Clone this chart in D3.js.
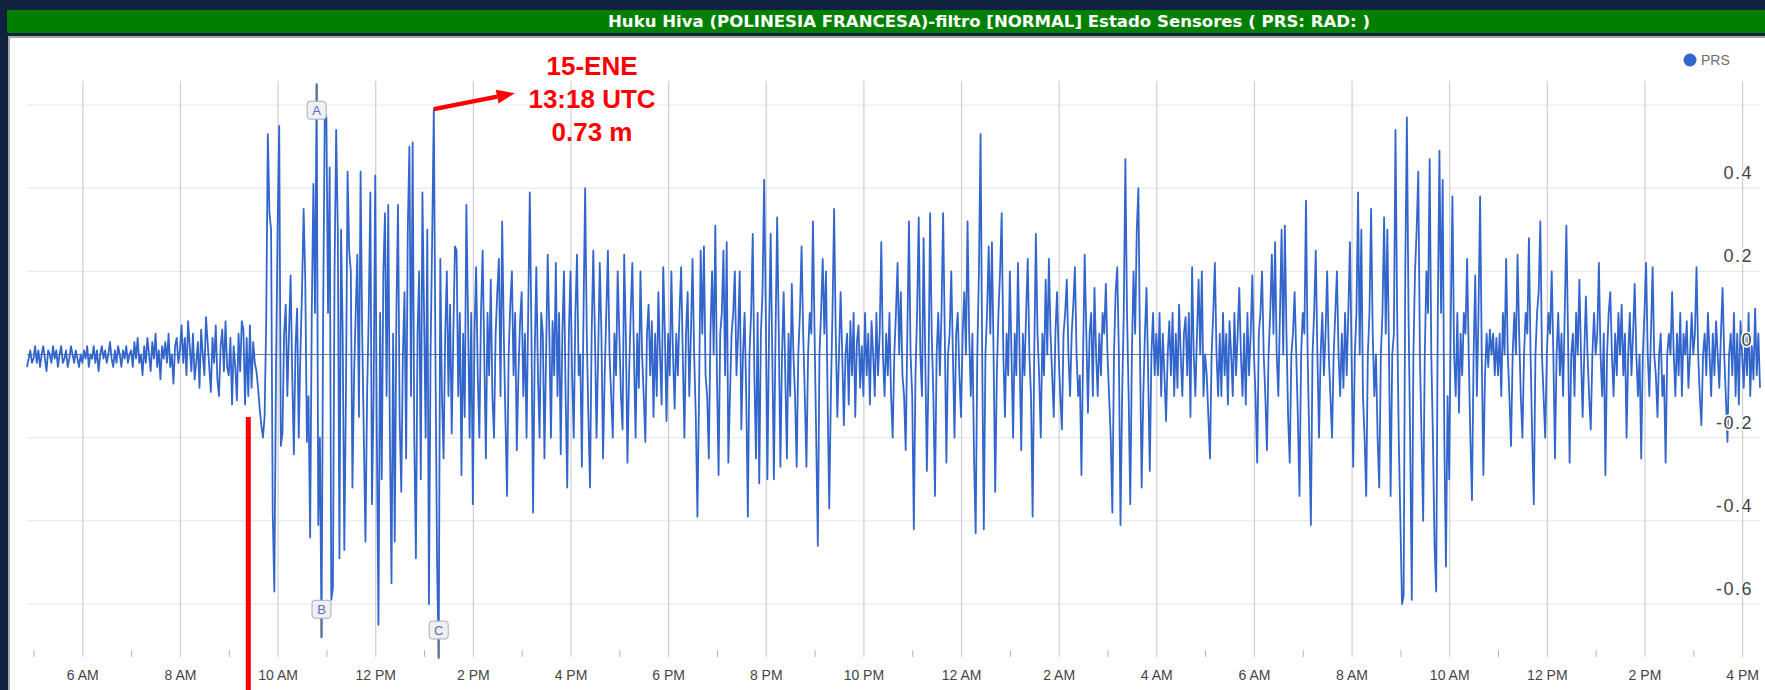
<!DOCTYPE html>
<html>
<head>
<meta charset="utf-8">
<script src="https://d3js.org/d3.v7.min.js"></script>
<style>
  html, body { margin: 0; padding: 0; background: #10223f; overflow: hidden; }
  svg { display: block; }
  .xAxis text { font-family: "Liberation Sans", Arial, sans-serif; font-size: 14px; fill: #444; }
  .xAxis line, .minorTicks line { stroke: #cfcfcf; }
  .minorTicks line { stroke: #b5b5b5; }
  .yGrid line { stroke: #e6e6e6; }
</style>
</head>
<body>
<div id="chart"></div>
<script>
var width = 1765;
var height = 690;

// sea level (PRS, filtered) one value every 2 minutes, from 15-ENE 04:52
var startTime = new Date(2022, 0, 15, 4, 52);
var stepMinutes = 2;

// 04:52 - 08:58
var prsEarly = [
  -0.03, -0.01, 0.01, -0.02,
  -0.01, 0.02, -0.02, 0.01, -0.03, 0.00, 0.02, -0.01, -0.04, 0.01, 0.00, -0.02, 0.02, -0.01, 0.01, -0.03, 0.00, 0.02, -0.02, -0.01, 0.01, -0.03, -0.01, 0.02, 0.00, -0.02, 0.01, -0.01, -0.03, 0.00,
  -0.02, 0.01, -0.01, 0.02, -0.03, 0.00, -0.01, 0.02, -0.02, 0.01, -0.04, 0.00, 0.02, -0.01, 0.01, -0.02, 0.00, 0.03, -0.01, -0.03, 0.01, -0.02, 0.02, 0.00, -0.03, 0.01, -0.01, 0.02, -0.02, 0.00,
  0.01, -0.03, 0.03, -0.01, 0.04, -0.02, 0.00, -0.05, 0.02, -0.02, 0.04, 0.00, -0.04, 0.03, -0.01, 0.05, -0.03, 0.01, -0.06, 0.02, -0.01, 0.03, -0.02, 0.05, -0.03, 0.00, -0.07, 0.02, 0.04, -0.02,
  0.01, 0.07, -0.02, 0.04, -0.05, 0.08, 0.02, -0.04, 0.05, -0.06, -0.02, 0.03, -0.08, 0.06, 0.00, -0.05, 0.09, 0.03, -0.03, -0.09, 0.04, -0.02, 0.07, -0.06, -0.10, 0.02, 0.06, -0.04, 0.08, -0.03
];

// 09:00 - 23:58
var prsDay1 = [
  -0.05, 0.04, -0.12, 0.02, -0.03, -0.11, 0.05, -0.04, 0.08, 0.06, -0.12, 0.04, -0.10, 0.07, -0.08, 0.03, -0.02, -0.04, -0.08, -0.13, -0.17, -0.20, -0.15, 0.08, 0.53, 0.34, 0.30, -0.38, -0.57, -0.05,
  0.30, 0.55, -0.22, -0.19, 0.05, 0.12, -0.10, 0.05, 0.19, -0.05, -0.24, 0.02, 0.11, -0.20, 0.00, 0.15, 0.35, 0.18, -0.21, -0.10, -0.44, 0.10, 0.41, 0.10, 0.65, -0.41, -0.20, -0.68, 0.10, 0.58,
  0.57, 0.10, 0.45, -0.59, -0.56, 0.20, 0.54, 0.30, -0.49, 0.30, 0.05, -0.47, -0.10, 0.44, 0.25, 0.20, -0.32, -0.05, 0.10, 0.24, -0.15, 0.44, 0.05, -0.20, -0.45, -0.10, 0.10, 0.39, -0.36, -0.10,
  0.43, -0.20, -0.65, 0.10, -0.30, 0.20, 0.34, -0.10, 0.36, -0.19, -0.55, 0.05, -0.45, 0.10, 0.36, -0.15, -0.33, 0.00, 0.15, -0.25, 0.30, 0.50, -0.10, 0.51, -0.20, -0.49, 0.05, 0.20, -0.30, 0.39,
  0.10, -0.20, 0.30, -0.60, 0.00, 0.28, 0.59, 0.00, -0.50, -0.73, 0.23, -0.10, -0.25, 0.05, 0.20, -0.10, 0.12, -0.19, 0.05, 0.26, 0.25, -0.10, 0.10, -0.29, 0.05, -0.15, 0.36, 0.10, -0.20, 0.10,
  -0.36, 0.05, 0.21, -0.05, -0.20, 0.10, 0.25, 0.00, -0.25, 0.10, -0.05, 0.18, -0.10, -0.20, 0.05, 0.15, 0.23, -0.10, 0.32, 0.05, -0.15, -0.34, 0.00, 0.12, 0.20, -0.05, 0.10, -0.23, -0.05, 0.08,
  0.15, -0.10, 0.05, -0.20, 0.10, 0.39, 0.05, -0.38, 0.00, 0.21, -0.05, -0.20, 0.10, 0.05, -0.25, 0.00, 0.24, 0.05, -0.20, 0.08, -0.05, 0.22, -0.10, 0.10, -0.24, 0.05, 0.20, -0.10, -0.32, 0.05,
  0.20, -0.05, -0.20, 0.10, 0.24, -0.05, 0.00, -0.27, 0.10, 0.40, 0.05, -0.15, -0.32, 0.05, 0.25, 0.05, -0.20, 0.00, 0.22, 0.05, -0.25, -0.05, 0.10, 0.25, 0.00, -0.10, -0.20, 0.05, -0.05, 0.20,
  0.05, -0.10, -0.18, 0.24, 0.05, -0.26, -0.05, 0.10, 0.22, 0.00, -0.20, 0.05, -0.08, 0.20, 0.00, -0.10, -0.21, 0.05, 0.12, -0.05, 0.08, -0.15, 0.05, -0.10, 0.15, 0.00, -0.12, 0.21, 0.05, -0.16,
  0.05, -0.05, 0.20, 0.00, -0.13, 0.05, -0.05, 0.10, 0.21, 0.00, -0.20, 0.05, 0.15, -0.10, 0.05, 0.23, 0.00, -0.15, -0.39, -0.10, 0.25, 0.05, 0.26, -0.05, -0.10, -0.25, 0.05, 0.20, 0.00, 0.31,
  -0.05, -0.29, 0.05, 0.10, 0.25, -0.05, 0.27, -0.26, -0.10, 0.05, 0.10, 0.20, -0.05, 0.05, 0.20, -0.18, 0.00, 0.10, -0.10, -0.39, 0.00, 0.10, 0.29, -0.05, -0.25, 0.10, -0.31, 0.05, 0.15, 0.42,
  0.10, -0.30, 0.05, 0.29, 0.00, -0.30, 0.05, 0.33, 0.05, -0.27, 0.00, 0.15, -0.05, -0.25, 0.05, -0.10, 0.17, 0.00, -0.10, -0.27, 0.00, 0.10, 0.26, 0.05, -0.10, -0.27, 0.00, 0.10, 0.05, 0.32,
  0.05, -0.20, -0.46, 0.00, 0.10, 0.23, 0.05, 0.20, -0.10, -0.37, -0.10, 0.10, 0.35, 0.05, -0.15, 0.00, 0.15, 0.00, -0.17, 0.00, 0.05, -0.12, 0.08, -0.05, 0.10, -0.15, 0.03, 0.07, -0.08, 0.02,
  -0.10, 0.10, -0.05, 0.05, -0.12, 0.08, 0.00, -0.10, 0.10, -0.05, 0.05, 0.27, 0.00, -0.10, 0.05, -0.05, 0.10, -0.10, -0.20, 0.00, 0.10, 0.22, 0.00, 0.15, -0.05, -0.10, -0.23, 0.05, 0.32, 0.00,
  -0.10, -0.42, -0.05, 0.10, 0.33, 0.00, -0.10, 0.28, 0.00, -0.28, -0.05, 0.34, 0.05, -0.10, -0.34, 0.00, 0.10, -0.05, 0.10, 0.34, 0.05, -0.26, 0.00, 0.05, 0.20, 0.00, -0.20, 0.05, 0.10, -0.05
];

// 16-ENE 00:00 - 16:22
var prsDay2 = [
  -0.15, 0.05, 0.15, 0.00, 0.32, 0.05, -0.10, 0.05, -0.25, -0.43, 0.00, 0.20, 0.53, 0.00, -0.42, 0.00, 0.10, 0.26, 0.05, 0.27, 0.00, -0.33, -0.05, 0.10, 0.20, 0.34, 0.00, -0.15, 0.05, -0.05,
  0.20, 0.00, -0.20, 0.05, -0.05, 0.22, 0.00, -0.23, 0.05, -0.05, 0.10, 0.23, 0.00, -0.10, -0.39, 0.00, 0.29, 0.05, -0.05, -0.20, 0.05, -0.05, 0.18, 0.00, 0.23, 0.05, -0.05, -0.15, 0.05, 0.15,
  0.00, -0.10, -0.18, 0.05, 0.10, 0.18, 0.00, -0.10, 0.05, 0.12, 0.21, 0.00, -0.10, -0.05, -0.29, 0.00, 0.24, 0.05, -0.14, 0.05, 0.10, -0.10, 0.16, 0.00, -0.10, 0.05, -0.05, 0.10, 0.05, 0.17,
  0.00, -0.10, -0.20, -0.38, 0.00, 0.15, 0.21, 0.00, -0.41, -0.10, 0.10, 0.47, 0.10, -0.10, -0.36, 0.00, 0.20, 0.05, 0.30, 0.40, 0.00, -0.32, -0.10, 0.05, 0.16, -0.05, -0.28, 0.00, 0.10, -0.05,
  0.05, -0.05, 0.10, -0.10, 0.05, -0.05, -0.16, 0.00, 0.08, -0.05, 0.10, -0.10, 0.05, -0.08, 0.12, 0.00, -0.10, 0.05, 0.09, -0.05, 0.10, -0.15, 0.21, 0.00, -0.10, 0.05, 0.18, 0.00, 0.20, -0.10,
  0.00, -0.05, -0.15, -0.25, 0.00, 0.10, 0.22, 0.00, -0.10, 0.05, -0.10, 0.10, -0.05, 0.05, -0.12, 0.08, 0.00, -0.10, 0.10, -0.05, 0.05, 0.16, 0.00, -0.10, 0.05, -0.12, 0.10, -0.05, 0.05, 0.19,
  0.00, -0.10, -0.26, 0.05, 0.10, 0.20, 0.00, -0.10, -0.23, 0.00, 0.10, 0.24, 0.05, 0.27, 0.00, -0.10, 0.10, 0.30, 0.00, 0.31, 0.05, -0.15, -0.26, 0.00, 0.05, 0.15, 0.00, -0.15, -0.34, 0.00,
  0.10, 0.05, 0.37, 0.00, -0.20, -0.41, 0.00, 0.10, 0.25, 0.00, -0.20, 0.00, 0.10, -0.05, 0.05, 0.20, 0.00, -0.10, -0.20, 0.00, 0.10, 0.20, 0.00, -0.10, 0.05, -0.08, 0.10, -0.05, 0.10, 0.27,
  0.00, -0.27, 0.00, 0.10, 0.39, 0.00, 0.30, -0.10, -0.20, -0.34, 0.00, 0.10, 0.35, 0.05, -0.10, 0.00, -0.20, -0.32, 0.00, 0.10, 0.33, 0.05, 0.30, 0.00, -0.34, 0.00, 0.05, 0.54, 0.10, -0.20,
  -0.40, -0.60, -0.58, 0.20, 0.57, 0.10, -0.20, -0.59, 0.00, 0.20, 0.30, 0.44, 0.00, -0.20, -0.40, 0.00, 0.20, 0.10, 0.47, 0.00, -0.20, -0.46, -0.57, 0.10, 0.49, 0.10, 0.42, -0.20, -0.51, -0.10,
  -0.30, 0.10, 0.38, 0.00, -0.10, 0.10, -0.14, 0.05, -0.05, 0.10, 0.05, 0.23, 0.00, -0.20, -0.35, 0.00, 0.19, -0.10, 0.10, 0.38, 0.00, -0.29, -0.05, 0.05, -0.03, 0.06, 0.00, 0.05, -0.05, 0.04,
  -0.05, 0.05, -0.10, 0.10, 0.00, 0.23, 0.00, -0.10, -0.22, 0.00, 0.10, 0.00, 0.24, 0.05, -0.10, -0.20, 0.00, 0.10, 0.05, 0.28, 0.00, -0.20, -0.36, 0.00, 0.10, 0.15, 0.32, 0.00, -0.10, -0.20,
  0.00, 0.10, 0.05, 0.20, 0.00, -0.25, 0.00, 0.10, -0.05, 0.05, -0.10, 0.10, 0.31, 0.05, -0.26, 0.00, 0.05, -0.10, 0.10, 0.00, 0.18, 0.00, -0.15, 0.00, 0.14, 0.00, -0.10, -0.18, 0.00, 0.10,
  0.00, 0.05, 0.22, 0.00, -0.10, 0.05, -0.29, 0.00, 0.10, 0.15, 0.00, -0.10, 0.05, -0.05, 0.10, 0.00, 0.12, -0.05, 0.05, -0.20, 0.00, 0.10, -0.05, 0.05, 0.17, 0.00, -0.10, 0.00, -0.25, 0.00,
  0.10, 0.22, 0.00, -0.10, 0.05, 0.21, 0.00, -0.05, -0.15, 0.00, 0.05, -0.10, -0.05, -0.26, 0.00, 0.05, 0.00, 0.15, 0.00, -0.10, 0.05, -0.05, 0.10, -0.10, 0.05, 0.00, 0.08, -0.08, 0.00, 0.10,
  0.00, 0.05, 0.21, 0.00, -0.10, -0.17, 0.00, 0.05, -0.05, 0.10, 0.00, -0.10, 0.05, -0.05, 0.08, 0.00, -0.08, 0.05, 0.16, 0.00, -0.10, -0.21, 0.00, 0.05, -0.05, 0.10, -0.10, 0.05, -0.12, 0.08,
  0.00, -0.08, 0.05, -0.05, 0.10, -0.10, 0.02, -0.06, 0.11, -0.05, 0.05, -0.08
];

var yTicks = [-0.6, -0.4, -0.2, 0, 0.2, 0.4, 0.6];
var yTickLabels = ["-0.6", "-0.4", "-0.2", "0", "0.2", "0.4", ""];

var flags = [
  { label: "A", time: new Date(2022, 0, 15, 10, 48), place: "below" },
  { label: "B", time: new Date(2022, 0, 15, 10, 54), place: "above" },
  { label: "C", time: new Date(2022, 0, 15, 13, 18), place: "above" }
];

var titleText = "Huku Hiva (POLINESIA FRANCESA)-filtro [NORMAL] Estado Sensores ( PRS: RAD: )";
var noteLines = ["15-ENE", "13:18 UTC", "0.73 m"];
var notePeakTime = new Date(2022, 0, 15, 13, 12);
var markerTime = new Date(2022, 0, 15, 9, 24);

var plot = { "left": 27, "right": 1760, "top": 81, "bottom": 657 };

var data = prsEarly.concat(prsDay1, prsDay2).map(function(v, i) {
  return { t: new Date(+startTime + i * stepMinutes * 60000), v: v };
});

var svg = d3.select("#chart")
  .append("svg")
  .attr("width", width)
  .attr("height", height);

svg.append("rect")
  .attr("width", width).attr("height", height)
  .attr("fill", "#10223f");

// title bar
svg.append("rect")
  .attr("x", 7).attr("y", 10)
  .attr("width", width - 7).attr("height", 23)
  .attr("fill", "#007f00");

svg.append("text")
  .attr("x", 989).attr("y", 27)
  .attr("text-anchor", "middle")
  .attr("textLength", 762)
  .attr("lengthAdjust", "spacingAndGlyphs")
  .style("font-family", "'DejaVu Sans Condensed', 'DejaVu Sans', sans-serif")
  .style("font-stretch", "condensed")
  .style("font-weight", "bold")
  .style("font-size", "15px")
  .attr("fill", "#ffffff")
  .text(titleText);

// chart panel
svg.append("rect")
  .attr("x", 9).attr("y", 37)
  .attr("width", width).attr("height", height)
  .attr("fill", "#ffffff")
  .attr("stroke", "#a8a8a8")
  .attr("stroke-width", 2);

var x = d3.scaleTime()
  .domain(d3.extent(data, function(d) { return d.t; }))
  .range([plot.left, plot.right]);

var y = d3.scaleLinear()
  .domain([-0.6, 0.6])
  .range([604, 105]);

// horizontal grid
var yGrid = svg.append("g").attr("class", "yGrid");
yGrid.selectAll("line")
  .data(yTicks)
  .enter().append("line")
  .attr("x1", plot.left).attr("x2", plot.right)
  .attr("y1", function(d) { return y(d); })
  .attr("y2", function(d) { return y(d); })
  .style("stroke", function(d) { return d === 0 ? "#7a7a7a" : "#e6e6e6"; })
  .attr("stroke-width", 1);

// vertical grid and hour labels
var xAxis = d3.axisBottom(x)
  .ticks(d3.timeHour.every(2))
  .tickFormat(d3.timeFormat("%-I %p"))
  .tickSizeInner(-(plot.bottom - plot.top))
  .tickSizeOuter(0)
  .tickPadding(13);

var gx = svg.append("g")
  .attr("class", "xAxis")
  .attr("transform", "translate(0," + plot.bottom + ")")
  .call(xAxis);
gx.select(".domain").remove();
gx.selectAll("line").attr("stroke-width", 1.2);

var minorAxis = d3.axisBottom(x)
  .ticks(d3.timeHour.every(1))
  .tickFormat("")
  .tickSizeInner(-7)
  .tickSizeOuter(0);

var gm = svg.append("g")
  .attr("class", "minorTicks")
  .attr("transform", "translate(0," + plot.bottom + ")")
  .call(minorAxis);
gm.select(".domain").remove();
gm.selectAll(".tick").filter(function(d) { return d.getHours() % 2 === 0; }).remove();

// series
var line = d3.line()
  .x(function(d) { return x(d.t); })
  .y(function(d) { return y(d.v); });

svg.append("path")
  .datum(data)
  .attr("d", line)
  .attr("fill", "none")
  .attr("stroke", "#3366cc")
  .attr("stroke-width", 1.8)
  .attr("stroke-linejoin", "round");

// y labels, on the right, above their grid line
svg.append("g")
  .selectAll("text")
  .data(yTicks.filter(function(d, i) { return yTickLabels[i] !== ""; }))
  .enter().append("text")
  .attr("x", 1753)
  .attr("y", function(d) { return y(d) - 9; })
  .attr("text-anchor", "end")
  .style("font-family", "'Liberation Sans', Arial, sans-serif")
  .style("font-size", "18px")
  .style("letter-spacing", "1.5px")
  .attr("fill", "#444")
  .attr("stroke", "#ffffff")
  .attr("stroke-width", 3)
  .attr("paint-order", "stroke")
  .text(function(d) { return yTickLabels[yTicks.indexOf(d)]; });

// legend
svg.append("circle")
  .attr("cx", 1690).attr("cy", 60).attr("r", 6.5)
  .attr("fill", "#3366cc");
svg.append("text")
  .attr("x", 1701).attr("y", 65)
  .style("font-family", "'Liberation Sans', Arial, sans-serif")
  .style("font-size", "14px")
  .attr("fill", "#707070")
  .text("PRS");

// flags A, B, C
function pointAt(time) {
  return data.find(function(d) { return +d.t === +time; });
}

var flagG = svg.append("g").selectAll("g")
  .data(flags)
  .enter().append("g")
  .attr("transform", function(f) {
    var p = pointAt(f.time);
    var cy = f.place === "below" ? y(p.v) + 26 : y(p.v) - 28;
    return "translate(" + x(p.t) + "," + cy + ")";
  });

flagG.append("line")
  .attr("x1", 0).attr("x2", 0)
  .attr("y1", function(f) { return f.place === "below" ? -26 : 0; })
  .attr("y2", function(f) { return f.place === "below" ? 0 : 28; })
  .attr("stroke", "#6a7490")
  .attr("stroke-width", 2);

flagG.append("rect")
  .attr("x", -9.5).attr("y", -9)
  .attr("width", 19).attr("height", 18)
  .attr("rx", 3)
  .attr("fill", "#eef0f4")
  .attr("stroke", "#a9adb6");

flagG.append("text")
  .attr("y", 5)
  .attr("text-anchor", "middle")
  .style("font-family", "'Liberation Sans', Arial, sans-serif")
  .style("font-size", "13px")
  .attr("fill", "#5a6fb4")
  .text(function(f) { return f.label; });

// red marker line
svg.append("line")
  .attr("x1", x(markerTime)).attr("x2", x(markerTime))
  .attr("y1", 417).attr("y2", height)
  .attr("stroke", "#ff0000")
  .attr("stroke-width", 5);

// red note with arrow
var peak = pointAt(notePeakTime);
var ax0 = x(peak.t), ay0 = y(peak.v);
var ax1 = ax0 + 81, ay1 = ay0 - 16;
var len = Math.sqrt(81 * 81 + 16 * 16);
var ux = 81 / len, uy = -16 / len;
var bx = ax1 - 18 * ux, by = ay1 - 18 * uy;

svg.append("line")
  .attr("x1", ax0).attr("y1", ay0)
  .attr("x2", bx).attr("y2", by)
  .attr("stroke", "#ff0000")
  .attr("stroke-width", 4.5);

svg.append("polygon")
  .attr("points", [
    [ax1, ay1],
    [bx - 7 * uy, by + 7 * ux],
    [bx + 7 * uy, by - 7 * ux]
  ].map(function(p) { return p.join(","); }).join(" "))
  .attr("fill", "#ff0000");

svg.append("g")
  .selectAll("text")
  .data(noteLines)
  .enter().append("text")
  .attr("x", 592)
  .attr("y", function(d, i) { return 75 + i * 33; })
  .attr("text-anchor", "middle")
  .style("font-family", "'Liberation Sans', Arial, sans-serif")
  .style("font-weight", "bold")
  .style("font-size", "26px")
  .attr("fill", "#ff0000")
  .text(function(d) { return d; });
</script>
</body>
</html>
